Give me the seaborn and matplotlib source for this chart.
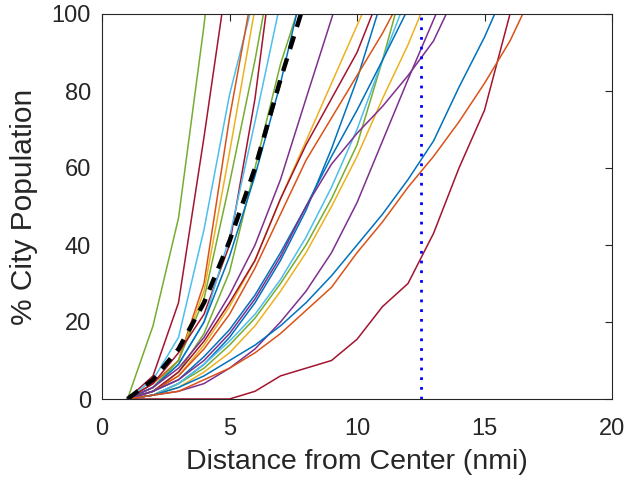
import matplotlib
matplotlib.use('Agg')
import numpy as np
import pandas as pd
import matplotlib.pyplot as plt
import seaborn as sns

# Colores por defecto de MATLAB
BLUE = '#0072BD'
ORANGE = '#D95319'
YELLOW = '#EDB120'
PURPLE = '#7E2F8E'
GREEN = '#77AC30'
LBLUE = '#4DBEEE'
DRED = '#A2142F'

# --- Datos: % acumulado de poblacion por distancia (1 nmi de paso) ---
dist_grid = [1, 2, 3, 4, 5, 6, 7, 8, 9, 10, 11, 12, 13, 14, 15, 16]

pct_c01 = [0, 19, 47, 97]
pct_c02 = [0, 6, 25, 68]
pct_c03 = [0, 5, 16, 44, 79]
pct_c04 = [0, 4, 10, 30, 73]
pct_c05 = [0, 3, 10, 28, 64]
pct_c06 = [0, 3, 10, 26, 56, 88]
pct_c07 = [0, 4, 12, 22, 40, 78]
pct_c08 = [0, 3, 9, 20, 42, 72]
pct_c09 = [0, 2, 7, 17, 33, 60, 87]
pct_c10 = [0, 3, 9, 20, 37, 58, 82]
pct_c11 = [0, 3, 8, 16, 27, 40, 57, 78]
pct_c12 = [0, 2, 6, 14, 24, 36, 52, 67, 82, 97]
pct_c13 = [0, 2, 7, 15, 25, 36, 52, 66, 78, 90]
pct_c14 = [0, 1, 4, 9, 16, 25, 36, 49, 65, 83]
pct_c15 = [0, 2, 6, 13, 22, 34, 48, 62, 73, 84, 95]
pct_c16 = [0, 1, 4, 8, 14, 21, 30, 40, 52, 66, 88]
pct_c17 = [0, 1, 4, 9, 15, 22, 31, 42, 55, 70, 88]
pct_c18 = [0, 2, 5, 11, 18, 27, 38, 50, 63, 75, 88]
pct_c19 = [0, 1, 3, 7, 12, 19, 28, 38, 50, 63, 78, 92]
pct_c20 = [0, 1, 2, 4, 8, 13, 20, 28, 38, 51, 67, 83]
pct_c21 = [0, 2, 5, 10, 17, 26, 37, 50, 61, 69, 76, 84, 93]
pct_c22 = [0, 1, 3, 6, 10, 14, 19, 25, 32, 40, 48, 57, 67, 81, 94]
pct_c23 = [0, 0, 0, 0, 0, 2, 6, 8, 10, 15.5, 24, 30, 43, 60, 75]
pct_c24 = [0, 1, 2, 5, 8, 12, 17, 23, 29, 38, 46, 55, 63, 72, 82, 93]

# distancia a la que cada ciudad llega al 100 %
reach_full = [4.05, 4.7, 5.8, 5.74, 5.96, 6.33, 6.43, 6.9, 7.63, 7.63,
              9.06, 10.2, 10.6, 10.8, 11.4, 11.5, 11.7, 11.9, 12.5, 13.1,
              13.5, 15.4, 16.0, 16.5]

city_colors = [GREEN, DRED, LBLUE, ORANGE, YELLOW, GREEN, DRED, LBLUE,
               GREEN, BLUE, PURPLE, YELLOW, DRED, BLUE, ORANGE, GREEN,
               LBLUE, BLUE, YELLOW, PURPLE, PURPLE, BLUE, DRED, ORANGE]

pct_cities = [pct_c01, pct_c02, pct_c03, pct_c04, pct_c05, pct_c06,
              pct_c07, pct_c08, pct_c09, pct_c10, pct_c11, pct_c12,
              pct_c13, pct_c14, pct_c15, pct_c16, pct_c17, pct_c18,
              pct_c19, pct_c20, pct_c21, pct_c22, pct_c23, pct_c24]

# curva promedio (negra discontinua)
mean_dist = [1, 2, 3, 4, 5, 6, 7, 7.8]
mean_pct = [0, 5, 13, 25, 41, 60, 83, 100]

# radio limite (linea azul punteada)
radius_limit = 12.5

# Tabla larga para seaborn
rows = []
for i, pct in enumerate(pct_cities):
    xs = dist_grid[:len(pct)] + [reach_full[i]]
    ys = pct + [100]
    for x, y in zip(xs, ys):
        rows.append({'city': i, 'dist': x, 'pct': y})
df = pd.DataFrame(rows)

sns.set_style('white')
plt.rcParams['font.family'] = ['Liberation Sans', 'DejaVu Sans']
TXT = '#262626'

fig = plt.figure(figsize=(6.26, 4.79), dpi=100)
ax = fig.add_axes([102 / 626, 80 / 479, 510 / 626, 385 / 479])

sns.lineplot(data=df, x='dist', y='pct', hue='city',
             palette={i: c for i, c in enumerate(city_colors)},
             legend=False, estimator=None, sort=False, lw=1.1, ax=ax)
ax.plot(mean_dist, mean_pct, color='black', lw=3.2, dashes=(3, 2.2))
ax.axvline(radius_limit, color='blue', lw=2, linestyle=(0, (1, 2.5)))

ax.set_xlim(0, 20)
ax.set_ylim(0, 100)
ax.set_xticks([0, 5, 10, 15, 20])
ax.set_yticks([0, 20, 40, 60, 80, 100])
ax.tick_params(direction='in', length=5, width=0.8, top=True, right=True,
               labelsize=17, colors=TXT)
ax.tick_params(axis='x', pad=14)
ax.tick_params(axis='y', pad=8)
for s in ax.spines.values():
    s.set_color(TXT)
    s.set_linewidth(0.8)

ax.set_xlabel('Distance from Center (nmi)', fontsize=20.5, color=TXT,
              labelpad=6)
ax.set_ylabel('% City Population', fontsize=21.5, color=TXT, labelpad=10)

fig.savefig('out.png', dpi=100)
